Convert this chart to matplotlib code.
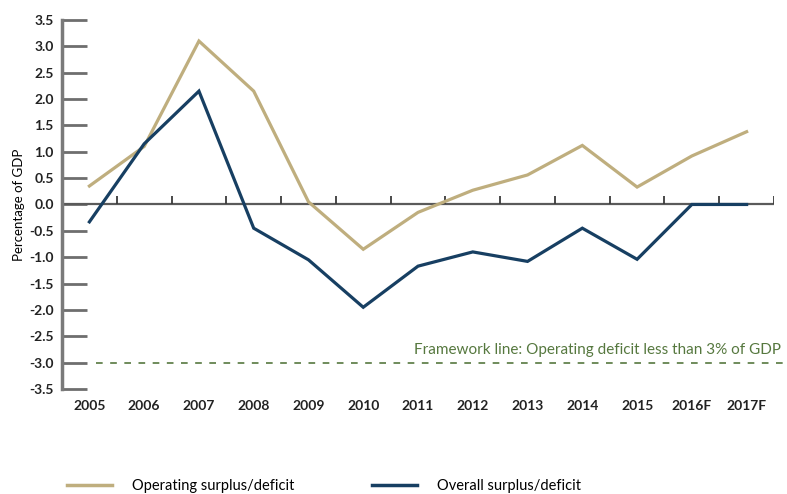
import numpy as np
import matplotlib.pyplot as plt

years = ['2005', '2006', '2007', '2008', '2009', '2010', '2011', '2012',
         '2013', '2014', '2015', '2016F', '2017F']
operating = [0.35, 1.1, 3.1, 2.15, 0.05, -0.85, -0.15, 0.27, 0.56, 1.12, 0.33, 0.92, 1.38]
overall = [-0.33, 1.15, 2.15, -0.45, -1.05, -1.95, -1.17, -0.9, -1.08, -0.45, -1.04, 0.0, 0.0]
framework = -3.0

tan = '#bfae7e'
navy = '#173f62'
green = '#56783f'

plt.rcParams['font.family'] = ['Lato', 'DejaVu Sans']

fig = plt.figure(figsize=(7.87, 4.94), dpi=100)
ax = fig.add_axes([0.0788, 0.2126, 0.9047, 0.747])

x = np.arange(len(years))
ax.plot(x, operating, color=tan, lw=2.3, solid_joinstyle='miter', zorder=3)
ax.plot(x, overall, color=navy, lw=2.3, solid_joinstyle='miter', zorder=4)

# zero line with category boundary ticks
ax.axhline(0, color='#5a5a5a', lw=1.6, zorder=2)
ax.vlines(np.arange(0.5, len(years)), 0, 0.16, color='#3a3a3a', lw=1.3, zorder=2)

# framework line
ax.plot([0.12, 12.72], [framework, framework], color=green, lw=1.2,
        dashes=(4, 4.5), clip_on=False)
ax.text(12.62, framework + 0.1, 'Framework line: Operating deficit less than 3% of GDP',
        color=green, fontsize=11, ha='right', va='bottom')

ax.set_xlim(-0.5, 12.5)
ax.set_ylim(-3.5, 3.5)
ax.set_yticks(np.arange(-3.5, 3.51, 0.5))
ax.set_yticklabels([f'{v:.1f}' for v in np.arange(-3.5, 3.51, 0.5)],
                   fontweight='bold', fontsize=10, color='#222222')
ax.set_xticks(x)
ax.set_xticklabels(years, fontweight='bold', fontsize=10, color='#222222')
ax.tick_params(axis='x', length=0, pad=8)
ax.tick_params(axis='y', direction='in', length=18, width=2, color='#6e6e6e', pad=6)

for s in ['top', 'right', 'bottom']:
    ax.spines[s].set_visible(False)
ax.spines['left'].set_color('#7a7a7a')
ax.spines['left'].set_linewidth(2.5)

ax.set_ylabel('Percentage of GDP', fontsize=9.5, labelpad=3)

# legend drawn below the plot
fig.legend(handles=[plt.Line2D([], [], color=tan, lw=2.5),
                    plt.Line2D([], [], color=navy, lw=2.5)],
           labels=['Operating surplus/deficit', 'Overall surplus/deficit'],
           loc='center left', bbox_to_anchor=(0.0851, 0.016), ncol=2, frameon=False,
           borderpad=0, borderaxespad=0,
           fontsize=10.5, handlelength=3.1, handletextpad=1.37, columnspacing=5.3)

fig.savefig('out.png', dpi=100)
